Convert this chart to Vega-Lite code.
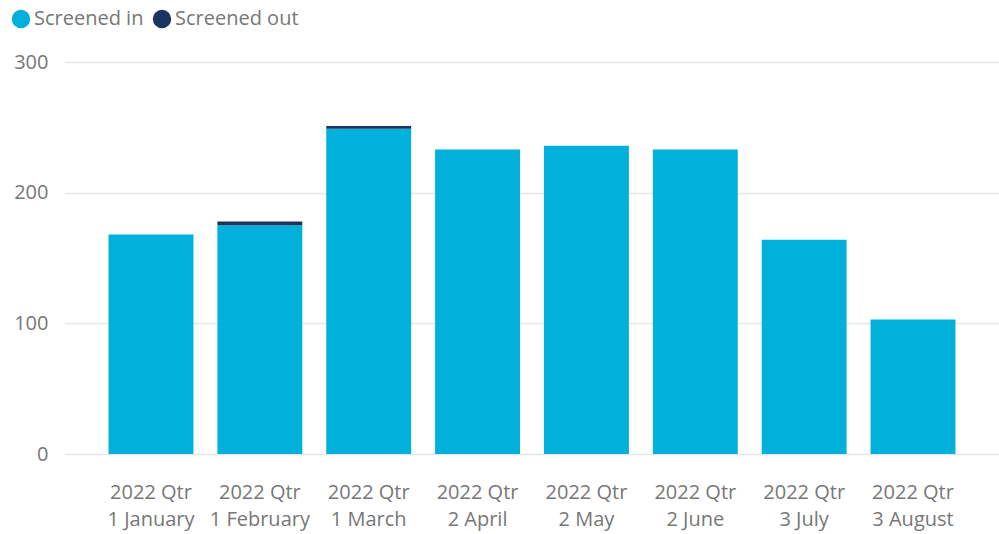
{
  "$schema": "https://vega.github.io/schema/vega-lite/v6.json",
  "autosize": {"type": "none"},
  "width": 934,
  "height": 392,
  "padding": {"left": 65, "top": 62, "right": 0, "bottom": 80},
  "background": "white",
  "data": {
    "values": [
      {"month": "2022 Qtr 1 January", "status": "Screened in", "count": 168},
      {"month": "2022 Qtr 1 February", "status": "Screened in", "count": 175},
      {"month": "2022 Qtr 1 February", "status": "Screened out", "count": 3},
      {"month": "2022 Qtr 1 March", "status": "Screened in", "count": 249},
      {"month": "2022 Qtr 1 March", "status": "Screened out", "count": 2},
      {"month": "2022 Qtr 2 April", "status": "Screened in", "count": 233},
      {"month": "2022 Qtr 2 May", "status": "Screened in", "count": 236},
      {"month": "2022 Qtr 2 June", "status": "Screened in", "count": 233},
      {"month": "2022 Qtr 3 July", "status": "Screened in", "count": 164},
      {"month": "2022 Qtr 3 August", "status": "Screened in", "count": 103}
    ]
  },
  "mark": {"type": "bar"},
  "encoding": {
    "x": {
      "field": "month",
      "type": "nominal",
      "sort": null,
      "scale": {"paddingInner": 0.22, "paddingOuter": 0.4},
      "axis": {
        "title": null,
        "labelAngle": 0,
        "domain": false,
        "ticks": false,
        "labelPadding": 28,
        "labelFont": "Open Sans",
        "labelFontSize": 20,
        "labelColor": "#777777",
        "labelLineHeight": 27,
        "labelExpr": "[join(slice(split(datum.label,' '),0,2),' '), join(slice(split(datum.label,' '),2),' ')]"
      }
    },
    "y": {
      "field": "count",
      "type": "quantitative",
      "stack": "zero",
      "scale": {"domain": [0, 300]},
      "axis": {
        "title": null,
        "values": [0, 100, 200, 300],
        "domain": false,
        "ticks": false,
        "labelPadding": 17,
        "labelFont": "Open Sans",
        "labelFontSize": 20,
        "labelColor": "#777777",
        "gridColor": "#e6e6e6",
        "gridWidth": 1.5
      }
    },
    "color": {
      "field": "status",
      "type": "nominal",
      "scale": {"domain": ["Screened in", "Screened out"], "range": ["#01B0DB", "#1C3560"]},
      "legend": {
        "title": null,
        "orient": "none",
        "direction": "horizontal",
        "legendX": -54,
        "legendY": -53,
        "symbolType": "circle",
        "symbolSize": 340,
        "symbolOpacity": 1,
        "labelFont": "Open Sans",
        "labelFontSize": 20,
        "labelColor": "#777777",
        "labelOffset": 3,
        "columnPadding": 8
      }
    },
    "order": {"field": "status", "sort": "ascending"}
  },
  "config": {"view": {"stroke": null}}
}
